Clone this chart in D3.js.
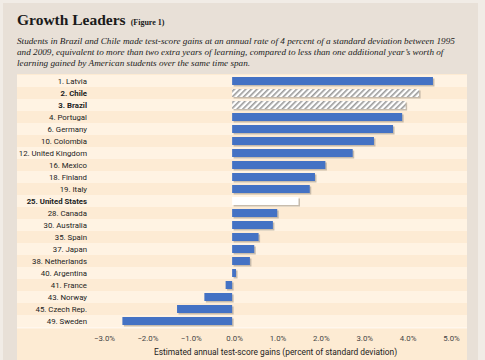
<!DOCTYPE html>
<html>
<head>
<meta charset="utf-8">
<script src="https://cdn.jsdelivr.net/npm/d3@7"></script>
<style>
  html, body { margin: 0; padding: 0; background: #f1ece6; }
  svg { display: block; }
</style>
</head>
<body>
<svg id="chart" width="485" height="360"></svg>
<script>
const countries = ["1. Latvia","2. Chile","3. Brazil","4. Portugal","6. Germany","10. Colombia","12. United Kingdom","16. Mexico","18. Finland","19. Italy","25. United States","28. Canada","30. Australia","35. Spain","37. Japan","38. Netherlands","40. Argentina","41. France","43. Norway","45. Czech Rep.","49. Sweden"];
const gains = [4.63,4.31,4.0,3.92,3.71,3.27,2.78,2.15,1.91,1.79,1.53,1.04,0.94,0.61,0.51,0.41,0.09,-0.15,-0.64,-1.27,-2.53];
const highlighted = ["2. Chile","3. Brazil"];
const usa = ["25. United States"];
const tickValues = [-3,-2,-1,0,1,2,3,4,5];
const titleText = "Growth Leaders";
const figText = "(Figure 1)";
const subtitleLines = [
  "Students in Brazil and Chile made test-score gains at an annual rate of 4 percent of a standard deviation between 1995",
  "and 2009, equivalent to more than two extra years of learning, compared to less than one additional year\u2019s worth of",
  "learning gained by American students over the same time span."
];
const axisTitle = "Estimated annual test-score gains (percent of standard deviation)";

const svg = d3.select("#chart");
const defs = svg.append("defs");
const pat = defs.append("pattern").attr("id","hatch").attr("patternUnits","userSpaceOnUse")
  .attr("width",4).attr("height",4).attr("patternTransform","rotate(45)");
pat.append("rect").attr("width",4).attr("height",4).attr("fill","#ffffff");
pat.append("rect").attr("width",1.6).attr("height",4).attr("fill","#9a9a9a");

// outer box
svg.append("rect").attr("x",3).attr("y",3).attr("width",475).attr("height",357).attr("fill","#e8e0d7");

// panel
const panelX = 17, panelW = 450, panelTop = 74;
svg.append("rect").attr("x",panelX).attr("y",panelTop).attr("width",panelW).attr("height",360-panelTop).attr("fill","#fdebd3");

const x = d3.scaleLinear().domain([-3,5]).range([102,449]);
const y = d3.scaleBand().domain(countries).range([75, 75 + 12*countries.length]).paddingInner(0).paddingOuter(0);

// row stripes
svg.append("g").selectAll("rect").data(countries).join("rect")
  .attr("x",panelX).attr("width",panelW)
  .attr("y",d=>y(d)).attr("height",y.bandwidth())
  .attr("fill",(d,i)=> i%2===0 ? "#fff3e3" : "#fdebd4");
svg.append("rect").attr("x",panelX).attr("width",panelW).attr("y",75+12*countries.length).attr("height",1.5).attr("fill","#fff7ee");

const barH = 8;
const barY = d => y(d) + (y.bandwidth()-barH)/2;
const data = countries.map((c,i)=>({c, v:gains[i]}));

// shadows
svg.append("g").selectAll("rect").data(data).join("rect")
  .attr("x",d=>Math.min(x(0),x(d.v))+1.5).attr("y",d=>barY(d.c)+1.5)
  .attr("width",d=>Math.abs(x(d.v)-x(0))).attr("height",barH)
  .attr("fill","#b9ae9f").attr("opacity",0.8);

svg.append("g").selectAll("rect").data(data).join("rect")
  .attr("x",d=>Math.min(x(0),x(d.v))).attr("y",d=>barY(d.c))
  .attr("width",d=>Math.abs(x(d.v)-x(0))).attr("height",barH)
  .attr("fill",d=> highlighted.includes(d.c) ? "url(#hatch)" : (usa.includes(d.c) ? "#ffffff" : "#4472c4"));

// labels
svg.append("g").selectAll("text").data(countries).join("text")
  .attr("x",87).attr("y",d=>y(d)+y.bandwidth()/2).attr("dy","0.35em")
  .attr("text-anchor","end")
  .attr("font-family","Roboto, 'Open Sans', sans-serif")
  .attr("font-size",7.8)
  .attr("font-weight",d=> (highlighted.includes(d)||usa.includes(d)) ? "bold" : "normal")
  .attr("fill","#222")
  .text(d=>d);

// axis
const axis = d3.axisBottom(x).tickValues(tickValues).tickFormat(d=>d3.format(".1f")(d)+"%").tickSize(0).tickPadding(0);
const ag = svg.append("g").attr("transform","translate(0,338)").call(axis);
ag.select(".domain").remove();
ag.selectAll("text").attr("font-family","Roboto, 'Open Sans', sans-serif").attr("font-size",7.8).attr("fill","#444").attr("dy","0.35em").attr("dx","2");

svg.append("text").attr("x",x(1)).attr("y",355).attr("text-anchor","middle")
  .attr("font-family","Roboto, 'Open Sans', sans-serif").attr("font-size",8.4).attr("fill","#222")
  .text(axisTitle);

// title
const t = svg.append("text").attr("x",17).attr("y",25).attr("font-family","'Liberation Serif', 'DejaVu Serif', serif").attr("fill","#1a1a1a");
t.append("tspan").attr("font-size",15.5).attr("font-weight","bold").text(titleText);
t.append("tspan").attr("dx",5).attr("font-size",8).attr("font-weight","bold").text(figText);

svg.append("g").selectAll("text").data(subtitleLines).join("text")
  .attr("x",17).attr("y",(d,i)=>44 + i*11)
  .attr("font-family","'Liberation Serif', 'DejaVu Serif', serif").attr("font-style","italic")
  .attr("font-size",9.2).attr("fill","#222")
  .text(d=>d);
</script>
</body>
</html>
